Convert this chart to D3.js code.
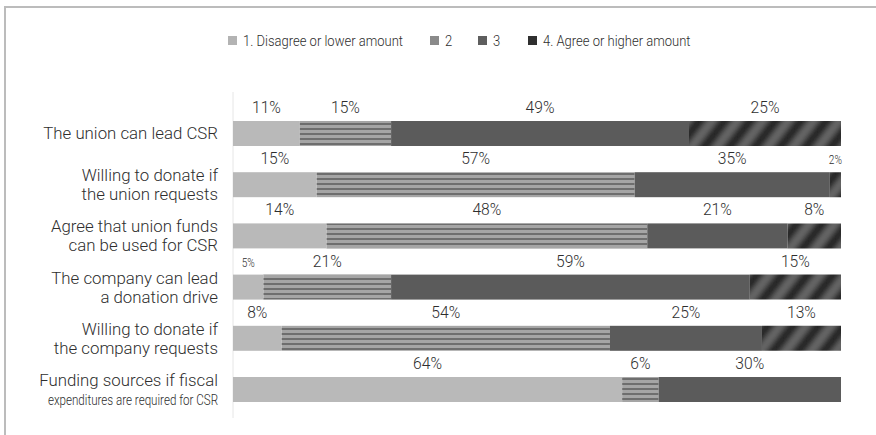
<!DOCTYPE html>
<html>
<head>
<meta charset="utf-8">
<script src="https://cdn.jsdelivr.net/npm/d3@7"></script>
<style>
  html, body { margin: 0; padding: 0; background: #fff; }
  svg { display: block; }
  text { font-family: Roboto, "DejaVu Sans", sans-serif; font-weight: 300; fill: #2e2e2e; }
</style>
</head>
<body>
<svg id="chart" width="876" height="435"></svg>
<script>
// Survey responses, percent of respondents per answer level
const categories = [
  ["The union can lead CSR"],
  ["Willing to donate if", "the union requests"],
  ["Agree that union funds", "can be used for CSR"],
  ["The company can lead", "a donation drive"],
  ["Willing to donate if", "the company requests"],
  ["Funding sources if fiscal", "expenditures are required for CSR"]
];
const seriesNames = ["1. Disagree or lower amount", "2", "3", "4. Agree or higher amount"];
const level1 = [11, 15, 14, 5, 8, 64];
const level2 = [15, 57, 48, 21, 54, 6];
const level3 = [49, 35, 21, 59, 25, 30];
const level4 = [25, 2, 8, 15, 13, 0];

const svg = d3.select("#chart");
const defs = svg.append("defs");

// Fill patterns for the answer levels
const p2 = defs.append("pattern").attr("id", "pat2")
  .attr("patternUnits", "userSpaceOnUse").attr("width", 8).attr("height", 5);
p2.append("rect").attr("width", 8).attr("height", 5).attr("fill", "#a5a5a5");
p2.append("rect").attr("y", 3).attr("width", 8).attr("height", 2).attr("fill", "#6e6e6e");

const p4 = defs.append("pattern").attr("id", "pat4")
  .attr("patternUnits", "userSpaceOnUse").attr("width", 20).attr("height", 20)
  .attr("patternTransform", "rotate(38)");
p4.append("rect").attr("width", 20).attr("height", 20).attr("fill", "#272727");
p4.append("rect").attr("x", 11).attr("width", 9).attr("height", 20).attr("fill", "#666666");

const soft = defs.append("filter").attr("id", "soft")
  .attr("filterUnits", "userSpaceOnUse")
  .attr("x", 0).attr("y", 0).attr("width", 876).attr("height", 435);
soft.append("feGaussianBlur").attr("stdDeviation", 2.6);

const fills = ["#b9b9b9", "url(#pat2)", "#5b5b5b", "url(#pat4)"];
const legendColors = ["#b3b3b3", "#8a8a8a", "#5e5e5e", "#2f2f2f"];

// Frame
svg.append("path").attr("d", "M5,436 V7 H876")
  .attr("fill", "none").attr("stroke", "#bcbcbc").attr("stroke-width", 2);

const rows = categories.map((c, i) => ({
  key: i, lines: c,
  s0: level1[i], s1: level2[i], s2: level3[i], s3: level4[i]
}));

const stack = d3.stack().keys(["s0", "s1", "s2", "s3"]).offset(d3.stackOffsetExpand);
const stacked = stack(rows);

const x = d3.scaleLinear().domain([0, 1]).range([233, 841]);
const y = d3.scaleBand().domain(rows.map(d => d.key)).range([121, 402])
  .paddingInner(0.512).paddingOuter(0);

// Faint baseline at the bar start
svg.append("line").attr("x1", 233).attr("x2", 233).attr("y1", 92).attr("y2", 418)
  .attr("stroke", "#e6e6e6").attr("stroke-width", 1);

// Clip paths keep the softened stripes inside each bar
stacked[3].forEach((d, i) => {
  defs.append("clipPath").attr("id", "clip" + i).append("rect")
    .attr("x", x(d[0])).attr("y", y(d.data.key))
    .attr("width", Math.max(0, x(d[1]) - x(d[0]))).attr("height", y.bandwidth());
});

// Bars
svg.append("g").selectAll("g").data(stacked).join("g")
  .attr("fill", (d, i) => fills[i])
  .each(function(layer, li) {
    const segs = layer.map((d, i) => Object.assign(d, { row: i })).filter(d => d[1] - d[0] > 0);
    const g = d3.select(this);
    if (li === 3) {
      segs.forEach(d => {
        g.append("g").attr("clip-path", `url(#clip${d.row})`)
          .append("g").attr("filter", "url(#soft)")
          .append("rect")
          .attr("x", x(d[0]) - 6)
          .attr("y", y(d.data.key) - 6)
          .attr("width", x(d[1]) - x(d[0]) + 12)
          .attr("height", y.bandwidth() + 12);
      });
    } else {
      g.selectAll("rect").data(segs).join("rect")
        .attr("x", d => x(d[0]))
        .attr("y", d => y(d.data.key))
        .attr("width", d => x(d[1]) - x(d[0]))
        .attr("height", y.bandwidth());
    }
  });

// Value labels centred above each segment
const labels = svg.append("g");
stacked.forEach((layer, li) => {
  layer.forEach(d => {
    const v = d.data["s" + li];
    if (!v) return;
    const cx = (x(d[0]) + x(d[1])) / 2;
    const small = v <= 5;
    labels.append("text")
      .attr("x", cx)
      .attr("y", y(d.data.key) - 8)
      .attr("text-anchor", "middle")
      .attr("font-size", small ? 13.5 : 17)
      .attr("transform", small ? `translate(${cx},0) scale(0.75,1) translate(${-cx},0)`
                               : `translate(${cx},0) scale(0.92,1) translate(${-cx},0)`)
      .text(v + "%");
  });
});

// Category labels, right aligned against the bars
const cat = svg.append("g");
rows.forEach((r, i) => {
  const cy = y(r.key) + y.bandwidth() / 2;
  const n = r.lines.length;
  r.lines.forEach((line, j) => {
    const smallLine = line.length > 28;
    const ly = cy + (j - (n - 1) / 2) * 19 + 6;
    cat.append("text")
      .attr("x", 218).attr("y", ly)
      .attr("text-anchor", "end")
      .attr("font-size", smallLine ? 14.5 : 17)
      .attr("transform", smallLine ? "translate(218,0) scale(0.8,1) translate(-218,0)"
                                   : "translate(218,0) scale(0.99,1) translate(-218,0)")
      .text(line);
  });
});

// Legend
const legendX = [228, 430, 478, 528];
const legend = svg.append("g");
seriesNames.forEach((name, i) => {
  legend.append("rect").attr("x", legendX[i]).attr("y", 36)
    .attr("width", 9).attr("height", 9).attr("fill", legendColors[i]);
  const tx = legendX[i] + 15;
  legend.append("text").attr("x", tx).attr("y", 46)
    .attr("font-size", 15.5)
    .attr("transform", `translate(${tx},0) scale(0.84,1) translate(${-tx},0)`)
    .text(name);
});
</script>
</body>
</html>
